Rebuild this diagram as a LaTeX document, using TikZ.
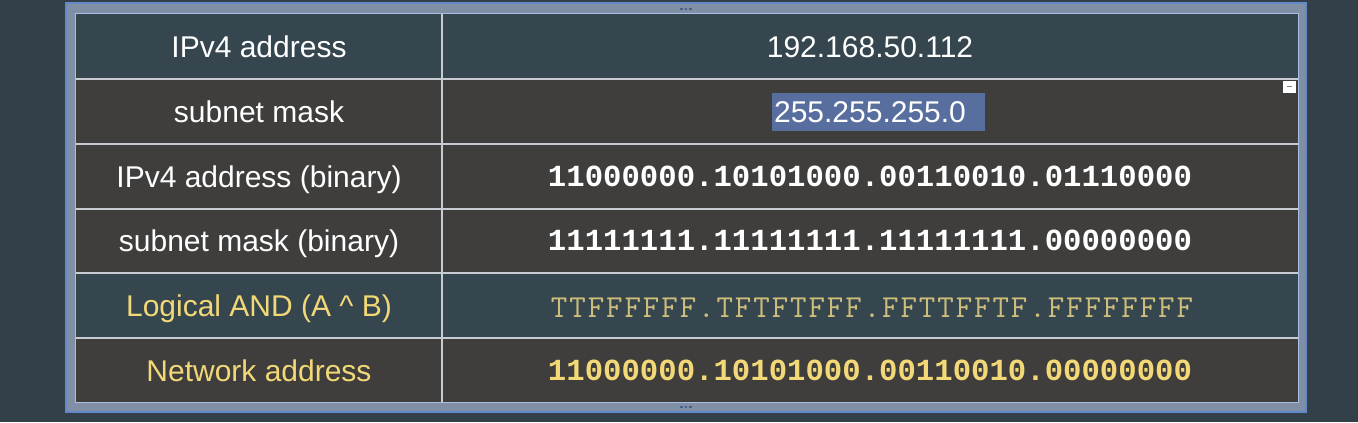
\documentclass[tikz,border=0pt]{standalone}
\usepackage{fontspec}
\setmainfont{Liberation Sans}
\newfontfamily\bitfont{Liberation Mono}
\newfontfamily\andfont[LetterSpace=6]{Latin Modern Mono}
\definecolor{slate}{RGB}{51,64,73}
\definecolor{framegray}{RGB}{128,142,166}
\definecolor{frameblue}{RGB}{98,138,200}
\definecolor{framelight}{RGB}{170,192,226}
\definecolor{rowblue}{RGB}{53,70,79}
\definecolor{rowgray}{RGB}{63,62,61}
\definecolor{gridline}{RGB}{200,204,210}
\definecolor{selblue}{RGB}{88,110,158}
\definecolor{labelgold}{RGB}{242,216,118}
\definecolor{andgold}{RGB}{206,190,124}
\tikzset{
  lbl/.style={anchor=base, inner sep=0.75pt, text=white, font=\fontsize{22.5}{27}\selectfont},
  goldlbl/.style={lbl, text=labelgold},
  bits/.style={anchor=base, inner sep=0.75pt, text=white, font=\bitfont\bfseries\fontsize{23}{27}\selectfont},
  goldbits/.style={bits, text=labelgold},
  andbits/.style={anchor=base, inner sep=0.75pt, text=andgold, font=\andfont\fontsize{24}{28}\selectfont},
  grid line/.style={draw=gridline, line width=1.5},
}
\begin{document}
\begin{tikzpicture}[x=0.75pt,y=0.75pt,yscale=-1,xscale=1]
% background
\fill [slate] (0,0) rectangle (1358,422);

% outer frame
\fill [framegray] (66,3) rectangle (1306,412);
\draw [frameblue, line width=1.5] (66,3) rectangle (1306,412);
\draw [framelight, line width=1.5] (76,14) rectangle (1298,402);
% frame handles
\draw [frameblue!70!black, line width=1.5, dash pattern=on 2pt off 1.5pt] (680,9) -- (694,9);
\draw [frameblue!70!black, line width=1.5, dash pattern=on 2pt off 1.5pt] (680,407) -- (694,407);

% row backgrounds
\fill [rowblue] (76,14) rectangle (1298,79);
\fill [rowgray] (76,79) rectangle (1298,144);
\fill [rowgray] (76,144) rectangle (1298,209);
\fill [rowgray] (76,209) rectangle (1298,273);
\fill [rowblue] (76,273) rectangle (1298,338);
\fill [rowgray] (76,338) rectangle (1298,402);

% grid lines
\draw [grid line] (76,79) -- (1298,79);
\draw [grid line] (76,144) -- (1298,144);
\draw [grid line] (76,209) -- (1298,209);
\draw [grid line] (76,273) -- (1298,273);
\draw [grid line] (76,338) -- (1298,338);
\draw [grid line] (442,14) -- (442,402);

% selection highlight and cell marker
\fill [selblue] (772,93) rectangle (985,131);
\fill [white] (1283,81) rectangle (1296,93);
\draw [gray, line width=0.75] (1287,86) -- (1292,86);

% Text Node
\node [lbl] (lbl-ip) at (259,57) {IPv4 address};
\node [lbl] (val-ip) at (870,57) {192.168.50.112};
% Text Node
\node [lbl] (lbl-mask) at (259,122) {subnet mask};
\node [lbl] (val-mask) at (870,122) {255.255.255.0};
% Text Node
\node [lbl] (lbl-ipbin) at (259,187) {IPv4 address (binary)};
\node [bits] (val-ipbin) at (870,186) {11000000.10101000.00110010.01110000};
% Text Node
\node [lbl] (lbl-maskbin) at (259,251) {subnet mask (binary)};
\node [bits] (val-maskbin) at (870,250) {11111111.11111111.11111111.00000000};
% Text Node
\node [goldlbl] (lbl-and) at (259,316) {Logical AND (A \^{} B)};
\node [andbits] (val-and) at (872,317) {TTFFFFFF.TFTFTFFF.FFTTFFTF.FFFFFFFF};
% Text Node
\node [goldlbl] (lbl-net) at (259,381) {Network address};
\node [goldbits] (val-net) at (870,380) {11000000.10101000.00110010.00000000};

\end{tikzpicture}
\end{document}
